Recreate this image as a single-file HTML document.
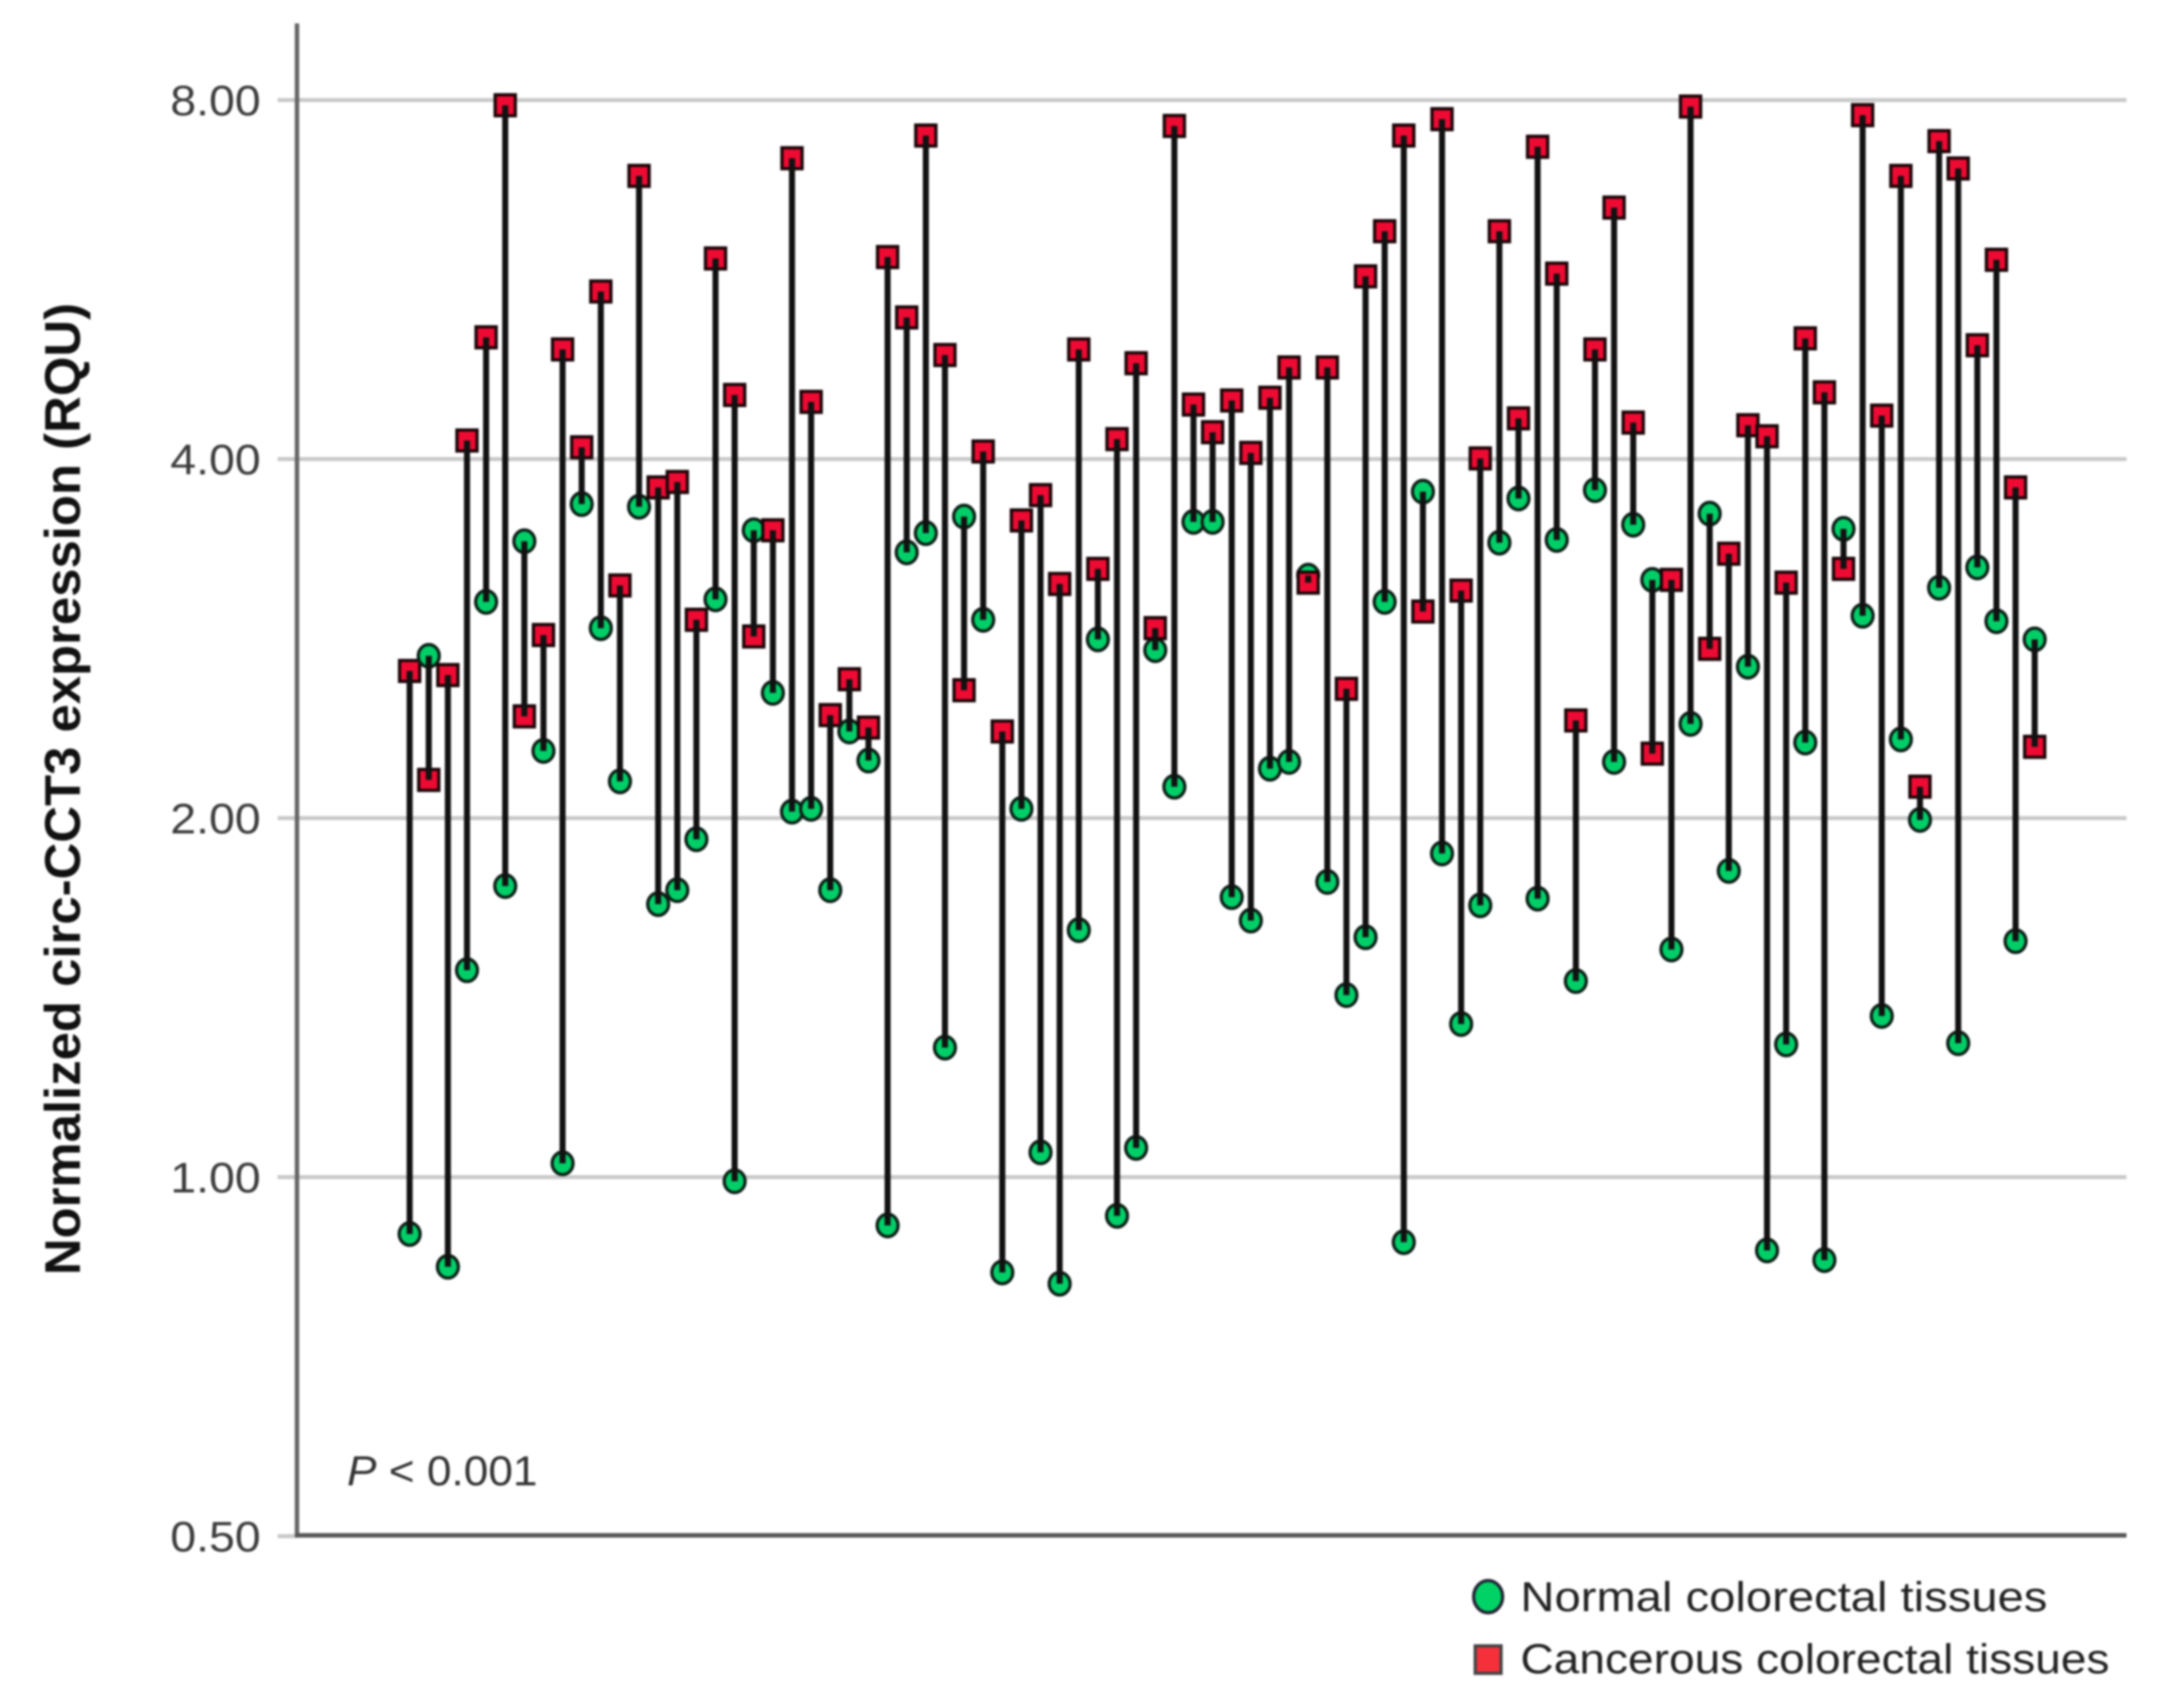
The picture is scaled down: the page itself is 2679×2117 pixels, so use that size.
<!DOCTYPE html>
<html lang="en">
<head>
<meta charset="utf-8">
<title>Normalized circ-CCT3 expression</title>
<style>
html,body{margin:0;padding:0;background:#fff;width:2679px;height:2117px;overflow:hidden}
svg{display:block;filter:blur(1.3px)}
text{font-family:"Liberation Sans",sans-serif}
</style>
</head>
<body>
<svg id="chart" xmlns="http://www.w3.org/2000/svg" width="2679" height="2117" viewBox="0 0 2679 2117">
  <rect width="2679" height="2117" fill="#fff"/>
  <g id="grid"></g>
  <g id="ticks"></g>
  <line x1="368" y1="29" x2="368" y2="1905" stroke="#666" stroke-width="5.5"/>
  <line x1="366" y1="1903" x2="2635" y2="1903" stroke="#555" stroke-width="5.5"/>
  <text transform="translate(99,978) rotate(-90)" text-anchor="middle" font-size="62" font-weight="bold" fill="#111" textLength="1205" lengthAdjust="spacingAndGlyphs">Normalized circ-CCT3 expression (RQU)</text>
  <g id="marks"></g>
  <text x="430" y="1841" font-size="52" fill="#333" textLength="236" lengthAdjust="spacingAndGlyphs"><tspan font-style="italic">P</tspan> &lt; 0.001</text>
  <g>
    <g>
      <ellipse cx="1844" cy="1979" rx="18" ry="20" fill="#00d265" stroke="#223" stroke-width="4"/>
      <text x="1884" y="1997" font-size="52" fill="#222" textLength="653" lengthAdjust="spacingAndGlyphs">Normal colorectal tissues</text>
    </g>
    <g>
      <rect x="1828" y="2040" width="32" height="34" fill="#f5303a" stroke="#444" stroke-width="4"/>
      <text x="1884" y="2074" font-size="52" fill="#222" textLength="730" lengthAdjust="spacingAndGlyphs">Cancerous colorectal tissues</text>
    </g>
  </g>
</svg>
<script>
const tickValues = [0.5, 1, 2, 4, 8];
const tickLabels = ["0.50", "1.00", "2.00", "4.00", "8.00"];
const normalValues = [
  0.896,2.736,0.841,1.491,3.036,1.754,3.413,2.277,1.027,3.667,
  2.886,2.147,3.648,1.694,1.740,1.920,3.051,0.992,3.486,2.547,
  2.025,2.036,1.740,2.364,2.235,0.911,3.341,3.467,1.284,3.580,
  2.933,0.832,2.036,1.049,0.814,1.611,2.824,0.928,1.058,2.766,
  2.125,3.543,3.543,1.717,1.641,2.200,2.229,3.194,1.768,1.421,
  1.589,3.036,0.882,3.756,1.868,1.344,1.690,3.404,3.707,1.712,
  3.422,1.460,3.767,2.229,3.524,3.168,1.552,2.399,3.600,1.806,
  2.679,0.868,1.292,2.314,0.852,3.496,2.956,1.365,2.328,1.993,
  3.120,1.295,3.245,2.925,1.577,2.824
];
const cancerousValues = [
  2.657,2.153,2.636,4.146,5.06,7.92,2.434,2.848,4.943,4.092,
  5.528,3.134,6.91,3.787,3.827,2.933,5.892,4.527,2.840,3.486,
  7.15,4.467,2.440,2.615,2.382,5.908,5.258,7.47,4.890,2.560,
  4.059,2.364,3.553,3.731,3.143,4.943,3.236,4.157,4.813,2.886,
  7.61,4.444,4.213,4.479,4.048,4.503,4.774,3.151,4.774,2.567,
  5.692,6.21,7.47,2.980,7.71,3.103,4.005,6.21,4.327,7.31,
  5.722,2.415,4.943,6.50,4.292,2.265,3.168,7.90,2.773,3.332,
  4.270,4.180,3.151,5.05,4.550,3.236,7.77,4.350,6.91,2.125,
  7.39,7.01,4.983,5.877,3.787,2.295
];

const SVG_NS = "http://www.w3.org/2000/svg";
const firstX = 507.6, stepX = 23.69;
const yOne = 1459, yPerDoubling = 445;
function xScale(i) { return firstX + i * stepX; }
function yScale(v) { return yOne - Math.log2(v) * yPerDoubling; }
function make(tag, attrs) {
  const el = document.createElementNS(SVG_NS, tag);
  for (const k in attrs) el.setAttribute(k, attrs[k]);
  return el;
}

const grid = document.getElementById("grid");
const ticks = document.getElementById("ticks");
tickValues.forEach(function (v, i) {
  const y = yScale(v);
  const line = make("line", {x1: 344, x2: i === 0 ? 368 : 2635, y1: y, y2: y, stroke: "#c9c9c9", "stroke-width": 5});
  
  
  grid.appendChild(line);
  const label = make("text", {x: 211, y: y + 19, "font-size": 53, fill: "#3c3c3c", textLength: 112, lengthAdjust: "spacingAndGlyphs"});
  
  
  label.textContent = tickLabels[i];
  ticks.appendChild(label);
});

const marks = document.getElementById("marks");
normalValues.forEach(function (n, i) {
  const c = cancerousValues[i];
  const x = xScale(i), yn = yScale(n), yc = yScale(c);
  const group = make("g", {});
  
  

  const circle = make("ellipse", {cx: x, cy: yn, rx: 13, ry: 14, fill: "#00cf68", stroke: "#0b1f16", "stroke-width": 4});
  
  
  group.appendChild(circle);

  const square = make("rect", {x: x - 12.5, y: yc - 13, width: 25, height: 26, fill: "#ee0a32", stroke: "#1a0508", "stroke-width": 4});
  
  
  group.appendChild(square);

  const link = make("line", {x1: x, x2: x, y1: yn, y2: yc, stroke: "#111", "stroke-width": 7.5});
  
  
  group.appendChild(link);

  marks.appendChild(group);
});
</script>
</body>
</html>
